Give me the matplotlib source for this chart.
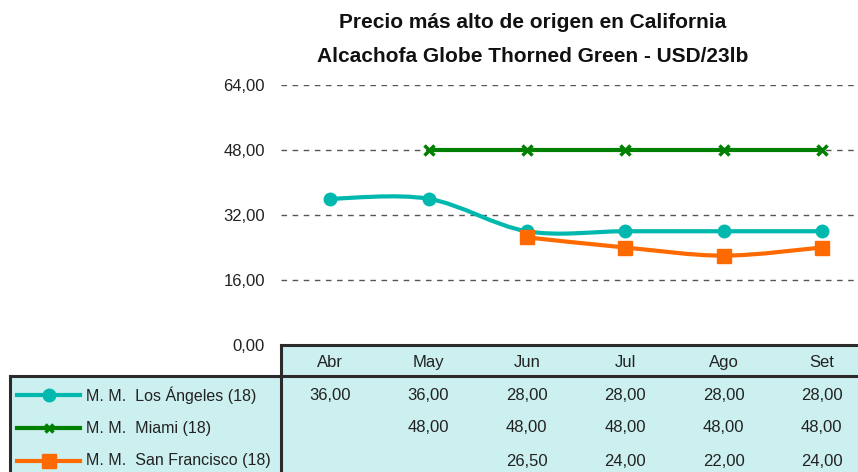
import matplotlib
matplotlib.use("Agg")
import matplotlib.pyplot as plt
from matplotlib.path import Path
from matplotlib.patches import PathPatch, Rectangle
from matplotlib.lines import Line2D
import matplotlib.transforms as mtransforms
import numpy as np

# ---------------- data ----------------
months = ["Abr", "May", "Jun", "Jul", "Ago", "Set"]
series_names = ["M. M.  Los Ángeles (18)", "M. M.  Miami (18)", "M. M.  San Francisco (18)"]
los_angeles = [36.0, 36.0, 28.0, 28.0, 28.0, 28.0]
miami = [None, 48.0, 48.0, 48.0, 48.0, 48.0]
san_francisco = [None, None, 26.5, 24.0, 22.0, 24.0]
yticks = [0, 16, 32, 48, 64]
title_lines = ["Precio más alto de origen en California",
               "Alcachofa Globe Thorned Green - USD/23lb"]

colors = ["#00B8AE", "#008000", "#FF6A00"]
markers = ["o", "x", "s"]

plt.rcParams["font.family"] = ["Liberation Sans", "DejaVu Sans"]

W, H = 858, 472
fig = plt.figure(figsize=(W / 100, H / 100), dpi=100)


def fx(px):
    return px / W


def fy(py):
    return 1 - py / H


ax_left, ax_right = 281, 871
ax_top, ax_bot = 85, 345
ax = fig.add_axes([fx(ax_left), fy(ax_bot), fx(ax_right - ax_left), (ax_bot - ax_top) / H])
ax.set_xlim(-0.5, len(months) - 0.5)
ax.set_ylim(0, 64)
for s in ax.spines.values():
    s.set_visible(False)
ax.set_xticks([])
ax.set_yticks(yticks)
ax.set_yticklabels([f"{v:.2f}".replace(".", ",") for v in yticks], fontsize=12, color="#222222")
ax.tick_params(axis="y", length=0, pad=11.5)
for v in yticks[1:]:
    ax.axhline(v, color="#555555", lw=1.0, ls=(0, (4, 4)), zorder=1)
ax.patch.set_alpha(0)


def smooth_path(xs, ys):
    xs = np.asarray(xs, float)
    ys = np.asarray(ys, float)
    n = len(xs)
    verts = [(xs[0], ys[0])]
    codes = [Path.MOVETO]
    for i in range(n - 1):
        p0 = np.array([xs[max(i - 1, 0)], ys[max(i - 1, 0)]])
        p1 = np.array([xs[i], ys[i]])
        p2 = np.array([xs[i + 1], ys[i + 1]])
        p3 = np.array([xs[min(i + 2, n - 1)], ys[min(i + 2, n - 1)]])
        c1 = p1 + (p2 - p0) / 6.0
        c2 = p2 - (p3 - p1) / 6.0
        verts += [tuple(c1), tuple(c2), tuple(p2)]
        codes += [Path.CURVE4] * 3
    return Path(verts, codes)


marker_style = {
    "o": dict(marker="o", ms=9),
    "x": dict(marker="x", ms=7, mew=2.5),
    "s": dict(marker="s", ms=9.5),
}

all_series = [los_angeles, miami, san_francisco]
for vals, c, m in zip(all_series, colors, markers):
    idx = [i for i, v in enumerate(vals) if v is not None]
    ys = [vals[i] for i in idx]
    ax.add_patch(PathPatch(smooth_path(idx, ys), fill=False, edgecolor=c, lw=3, zorder=3,
                           capstyle="butt", joinstyle="round"))
    ax.plot(idx, ys, ls="none", color=c, zorder=4, clip_on=False, **marker_style[m])

# ---------------- title ----------------
for ty, tl in zip([23, 56], title_lines):
    fig.text(fx(533), fy(ty), tl, ha="center", va="center", fontsize=15, fontweight="bold",
             color="#111111")

# ---------------- data table ----------------
bg = "#CCEFEF"
edge = "#2b2b2b"
fig.patches.append(Rectangle((fx(ax_left), 0), 1, (H - 345) / H, transform=fig.transFigure,
                             facecolor=bg, edgecolor="none", zorder=0))
fig.patches.append(Rectangle((fx(10), 0), fx(ax_left - 10), (H - 376) / H, transform=fig.transFigure,
                             facecolor=bg, edgecolor="none", zorder=0))
border_lines = [
    ((fx(ax_left), 1.0), (fy(345), fy(345))),
    ((fx(10), 1.0), (fy(376), fy(376))),
    ((fx(ax_left), fx(ax_left)), (fy(345), 0)),
    ((fx(10), fx(10)), (fy(376), 0)),
]
for xd, yd in border_lines:
    fig.add_artist(Line2D(xd, yd, transform=fig.transFigure, color=edge, lw=2.2, zorder=5,
                          solid_capstyle="projecting"))

trans = mtransforms.blended_transform_factory(ax.transData, fig.transFigure)
for i, mname in enumerate(months):
    fig.text(i, fy(367), mname, transform=trans, ha="center", va="baseline", fontsize=12, color="#222222")

row_y = [395, 428, 461]
for r, (vals, c, m, name) in enumerate(zip(all_series, colors, markers, series_names)):
    y = fy(row_y[r])
    for i, v in enumerate(vals):
        if v is not None:
            fig.text(i, y, f"{v:.2f}".replace(".", ","), transform=trans, ha="center", va="center",
                     fontsize=12, color="#222222")
    fig.add_artist(Line2D([fx(17), fx(80)], [y, y], transform=fig.transFigure, color=c, lw=3, zorder=6))
    st = dict(marker_style[m])
    if m == "x":
        st["ms"] = 6
    fig.add_artist(Line2D([fx(49)], [y], transform=fig.transFigure, ls="none", color=c, zorder=7, **st))
    fig.text(fx(86), y, name, ha="left", va="center", fontsize=11.5, color="#222222")

fig.savefig("out.png", dpi=100)
